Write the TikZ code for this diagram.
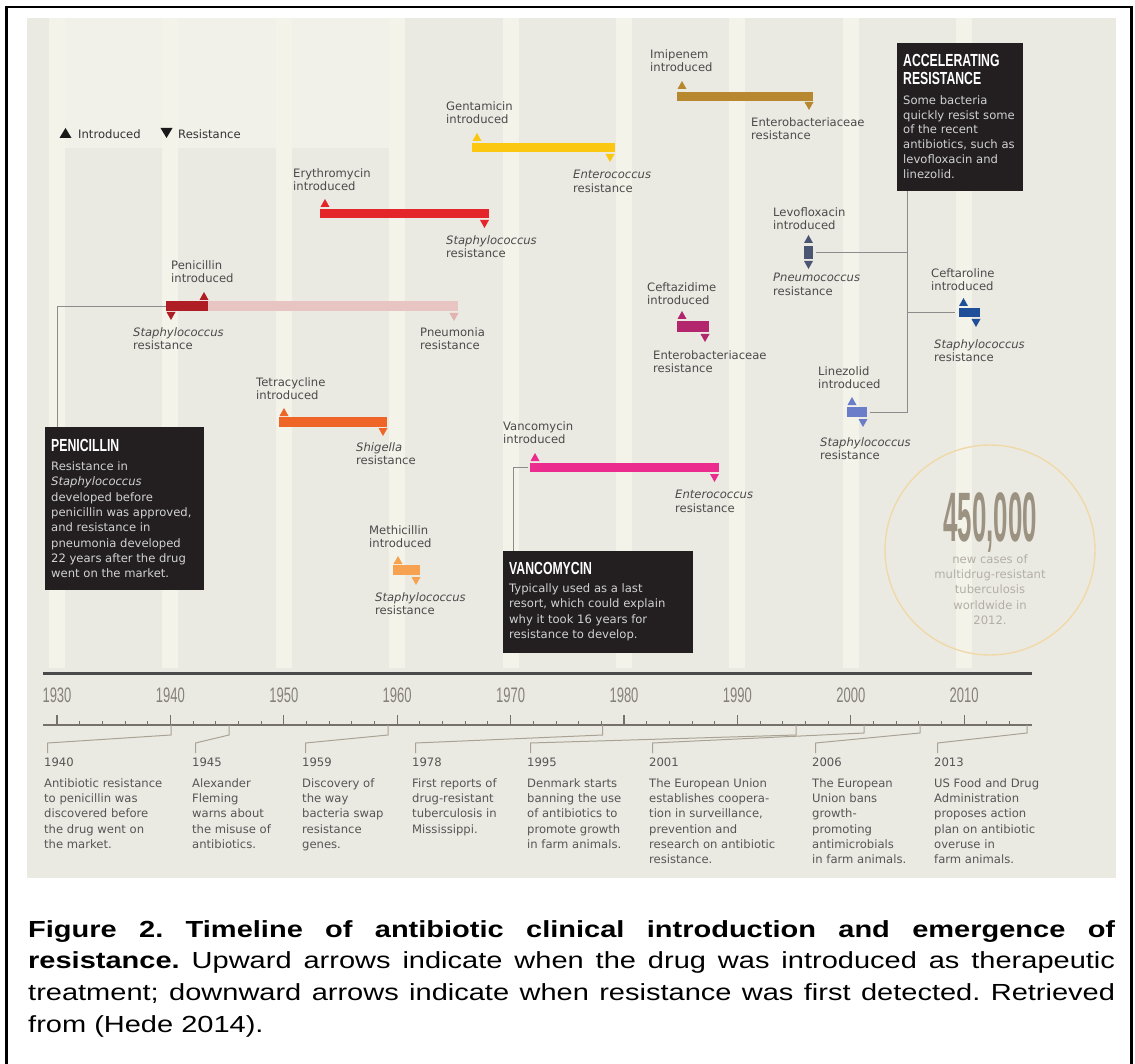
\documentclass[tikz,border=0pt]{standalone}
\usepackage{fontspec}
\usepackage{graphicx}
\newfontfamily\dv{DejaVu Sans}
\newfontfamily\ls{Liberation Sans}
\usetikzlibrary{calc}
\definecolor{panel}{HTML}{EBEAE2}
\definecolor{stripe}{HTML}{F3F3EA}
\definecolor{toplight}{HTML}{F1F1E9}
\definecolor{labc}{HTML}{4A4A4A}
\definecolor{evc}{HTML}{555555}
\definecolor{boxc}{HTML}{231F20}
\definecolor{boxtxt}{HTML}{D2D2D2}
\definecolor{conc}{HTML}{8C8C8C}
\definecolor{evlc}{HTML}{A9A295}
\definecolor{axc}{HTML}{4A4A4A}
\definecolor{axthin}{HTML}{76726B}
\definecolor{yrc}{HTML}{858079}
\definecolor{circc}{HTML}{F0D9A8}
\definecolor{bignum}{HTML}{9C9282}
\definecolor{circtxt}{HTML}{B3AEA5}
\definecolor{penD}{HTML}{B01E25}
\definecolor{penL}{HTML}{E8C4C2}
\definecolor{penLt}{HTML}{E2B3B1}
\definecolor{eryc}{HTML}{E4262B}
\definecolor{genc}{HTML}{FCC710}
\definecolor{imic}{HTML}{B7882F}
\definecolor{tetc}{HTML}{EF6527}
\definecolor{metc}{HTML}{F7A250}
\definecolor{vanc}{HTML}{EC2B8E}
\definecolor{cefzc}{HTML}{B3266D}
\definecolor{levoc}{HTML}{4A5573}
\definecolor{ceftc}{HTML}{1F4F98}
\definecolor{linec}{HTML}{6B7CC8}
\newcommand\triUp[3]{\fill[#1] ({#2-4.5},#3) -- ++(9,0) -- ++(-4.5,-8) -- cycle;}
\newcommand\triDn[3]{\fill[#1] ({#2-4.5},#3) -- ++(9,0) -- ++(-4.5,8) -- cycle;}
\newcommand\capline[1]{\scalebox{1.245}[1]{\makebox[873pt][s]{#1}}}
\begin{document}
\begin{tikzpicture}[x=1pt,y=-1pt,
  lab/.style={anchor=north west, inner sep=0, align=left, text=labc, font=\dv\fontsize{11.6}{13.6}\selectfont},
  evt/.style={anchor=north west, inner sep=0, align=left, text=evc, font=\dv\fontsize{11.6}{15.3}\selectfont},
  barn/.style={anchor=north west, inner sep=0, draw=none},
  dbox/.style={anchor=north west, inner sep=0, fill=boxc, draw=none},
  btitle/.style={anchor=north west, inner sep=0, align=left, text=white, font=\ls\bfseries\fontsize{17.5}{18}\selectfont},
  bbody/.style={anchor=north west, inner sep=0, align=left, text=boxtxt, font=\dv\fontsize{11.6}{15.3}\selectfont},
  conn/.style={draw=conc, line width=1},
  evline/.style={draw=evlc, line width=1},
  yrlab/.style={anchor=north, inner sep=0, text=yrc, font=\ls\fontsize{21}{21}\selectfont}
]
\useasboundingbox (0,0) rectangle (1135,1064);
\fill[white] (0,0) rectangle (1135,1064);
% frame
\draw[line width=2.2] (6.5,1075) -- (6.5,7) -- (1131.5,7) -- (1131.5,1075);
% panel
\fill[panel] (27,18) rectangle (1116,878);
\fill[toplight] (49,18) rectangle (405,148);
\foreach \k in {0,...,8} \fill[stripe] ({49+\k*113.4},18) rectangle ++(16,650);

% legend
\fill[black!90] (59.5,138) -- (71.5,138) -- (65.5,128) -- cycle;
\node[lab, text=black!80] (legI) at (78,129) {Introduced};
\fill[black!90] (160.5,128) -- (172.5,128) -- (166.5,138) -- cycle;
\node[lab, text=black!80] (legR) at (178,129) {Resistance};

% Penicillin
\node[barn, fill=penL, minimum width=250, minimum height=10] (penlight) at (208,301) {};
\node[barn, fill=penD, minimum width=42, minimum height=10] (penbar) at (166,301) {};
\triUp{penD}{204}{300}
\triDn{penD}{171}{312}
\triDn{penLt}{454}{313}
\node[lab] (penI) at (171,260) {Penicillin\\introduced};
\node[lab] (penS) at (133,327) {\textit{Staphylococcus}\\resistance};
\node[lab] (penP) at (420,327) {Pneumonia\\resistance};

% Erythromycin
\node[barn, fill=eryc, minimum width=169, minimum height=9] (erybar) at (320,209) {};
\triUp{eryc}{325}{207}
\triDn{eryc}{484.5}{220}
\node[lab] (eryI) at (293,168) {Erythromycin\\introduced};
\node[lab] (eryS) at (446,235) {\textit{Staphylococcus}\\resistance};

% Gentamicin
\node[barn, fill=genc, minimum width=143, minimum height=9] (genbar) at (472,143) {};
\triUp{genc}{477}{141}
\triDn{genc}{610}{154}
\node[lab] (genI) at (446,101) {Gentamicin\\introduced};
\node[lab] (genE) at (573,170) {\textit{Enterococcus}\\resistance};

% Imipenem
\node[barn, fill=imic, minimum width=136, minimum height=8.5] (imibar) at (677,92) {};
\triUp{imic}{682}{89}
\triDn{imic}{809}{102}
\node[lab] (imiI) at (650,49) {Imipenem\\introduced};
\node[lab] (imiE) at (751,117) {Enterobacteriaceae\\resistance};

% Tetracycline
\node[barn, fill=tetc, minimum width=108, minimum height=10] (tetbar) at (279,417) {};
\triUp{tetc}{284}{416}
\triDn{tetc}{383}{428}
\node[lab] (tetI) at (256,377) {Tetracycline\\introduced};
\node[lab] (tetS) at (356,442) {\textit{Shigella}\\resistance};

% Methicillin
\node[barn, fill=metc, minimum width=27, minimum height=10] (metbar) at (393,565) {};
\triUp{metc}{398}{564}
\triDn{metc}{416}{577}
\node[lab] (metI) at (369,525) {Methicillin\\introduced};
\node[lab] (metS) at (375,592) {\textit{Staphylococcus}\\resistance};

% Vancomycin
\node[barn, fill=vanc, minimum width=189, minimum height=9] (vanbar) at (530,463) {};
\triUp{vanc}{535}{461}
\triDn{vanc}{714.5}{474}
\node[lab] (vanI) at (503,421) {Vancomycin\\introduced};
\node[lab] (vanE) at (675,490) {\textit{Enterococcus}\\resistance};

% Ceftazidime
\node[barn, fill=cefzc, minimum width=32, minimum height=11] (czbar) at (677,321) {};
\triUp{cefzc}{682}{319}
\triDn{cefzc}{705}{334}
\node[lab] (czI) at (647,282) {Ceftazidime\\introduced};
\node[lab] (czE) at (653,350) {Enterobacteriaceae\\resistance};

% Levofloxacin
\node[barn, fill=levoc, minimum width=9, minimum height=13] (lvbar) at (804,245.5) {};
\triUp{levoc}{808.5}{243}
\triDn{levoc}{808.5}{261}
\node[lab] (lvI) at (773,207) {Levofloxacin\\introduced};
\node[lab] (lvP) at (773,273) {\textit{Pneumococcus}\\resistance};

% Ceftaroline
\node[barn, fill=ceftc, minimum width=21, minimum height=9] (ctbar) at (959,308) {};
\triUp{ceftc}{963.5}{306}
\triDn{ceftc}{976}{319}
\node[lab] (ctI) at (931,268) {Ceftaroline\\introduced};
\node[lab] (ctS) at (934,339) {\textit{Staphylococcus}\\resistance};

% Linezolid
\node[barn, fill=linec, minimum width=20, minimum height=10] (lzbar) at (847,407) {};
\triUp{linec}{852}{405}
\triDn{linec}{863}{419}
\node[lab] (lzI) at (818,366) {Linezolid\\introduced};
\node[lab] (lzS) at (820,437) {\textit{Staphylococcus}\\resistance};

% Boxes
\node[dbox, minimum width=159, minimum height=163] (penbox) at (45,427) {};
\node[btitle] (pent) at (51,439) {\scalebox{0.7}[1]{PENICILLIN}};
\node[bbody] (penb) at (51,461.5) {Resistance in\\\textit{Staphylococcus}\\developed before\\penicillin was approved,\\and resistance in\\pneumonia developed\\22 years after the drug\\went on the market.};

\node[dbox, minimum width=190, minimum height=102] (vanbox) at (503,551) {};
\node[btitle] (vant) at (509,562) {\scalebox{0.7}[1]{VANCOMYCIN}};
\node[bbody] (vanb) at (509,583.5) {Typically used as a last\\resort, which could explain\\why it took 16 years for\\resistance to develop.};

\node[dbox, minimum width=126, minimum height=148] (accbox) at (897,43) {};
\node[btitle] (acct) at (903,54) {\scalebox{0.7}[1]{ACCELERATING}\\\scalebox{0.7}[1]{RESISTANCE}};
\node[bbody, font=\dv\fontsize{11.6}{14.7}\selectfont] (accb) at (903,95.5) {Some bacteria\\quickly resist some\\of the recent\\antibiotics, such as\\levofloxacin and\\linezolid.};

% connectors
\draw[conn] (penbar.west) -| ([xshift=12pt]penbox.north west);
\draw[conn] ([xshift=-2pt]vanbar.west) -| ([xshift=10pt]vanbox.north west);
\coordinate (accX) at ([xshift=10pt]accbox.south west);
\draw[conn] (accX) |- ([xshift=3pt]lzbar.east);
\draw[conn] ([xshift=3pt]lvbar.east) -- (lvbar.east -| accX);
\draw[conn] ([xshift=-4pt]ctbar.west) -- (ctbar.west -| accX);

% circle
\node[circle, draw=circc, line width=1.4, minimum size=210, inner sep=0] (circ) at (990,550) {};
\node[anchor=north, inner sep=0, text=bignum, font=\ls\bfseries\fontsize{70}{70}\selectfont] (bign) at (990,492) {\scalebox{0.37}[1]{450,000}};
\node[anchor=north, inner sep=0, align=center, text=circtxt, font=\dv\fontsize{11.6}{15.2}\selectfont] (ctx) at (990,554.5) {new cases of\\multidrug-resistant\\tuberculosis\\worldwide in\\2012.};

% axis
\draw[axc, line width=3] (43,673) -- (1032,673);
\draw[axthin, line width=1.2] (43,725) -- (1032,725);
\foreach \yr in {1930,1940,...,2010} {
  \draw[axthin, line width=1.2] ({57+(\yr-1930)*11.34},725) -- ++(0,-10);
  \node[yrlab] (yr\yr) at ({57+(\yr-1930)*11.34},688) {\scalebox{0.62}[1]{\yr}};
}
\foreach \yr in {1932,1934,...,2014} \draw[axthin, line width=0.9] ({57+(\yr-1930)*11.34},725) -- ++(0,-4);

% events
\node[evt] (e1940) at (44,758) {1940\\[5pt]Antibiotic resistance\\to penicillin was\\discovered before\\the drug went on\\the market.};
\node[evt] (e1945) at (192,758) {1945\\[5pt]Alexander\\Fleming\\warns about\\the misuse of\\antibiotics.};
\node[evt] (e1959) at (302,758) {1959\\[5pt]Discovery of\\the way\\bacteria swap\\resistance\\genes.};
\node[evt] (e1978) at (412,758) {1978\\[5pt]First reports of\\drug-resistant\\tuberculosis in\\Mississippi.};
\node[evt] (e1995) at (527,758) {1995\\[5pt]Denmark starts\\banning the use\\of antibiotics to\\promote growth\\in farm animals.};
\node[evt] (e2001) at (649,758) {2001\\[5pt]The European Union\\establishes coopera-\\tion in surveillance,\\prevention and\\research on antibiotic\\resistance.};
\node[evt] (e2006) at (812,758) {2006\\[5pt]The European\\Union bans\\growth-\\promoting\\antimicrobials\\in farm animals.};
\node[evt] (e2013) at (934,758) {2013\\[5pt]US Food and Drug\\Administration\\proposes action\\plan on antibiotic\\overuse in\\farm animals.};

\foreach \ev/\ax/\dy in {1940/171/10, 1945/229/10, 1959/388/10, 1978/602.7/10, 1995/796/10, 2001/864/8, 2006/920/8, 2013/1027/8} {
  \coordinate (a\ev) at (\ax,725);
  \draw[evline] (a\ev) -- ++(0,\dy) -- ([shift={(3.5,-15)}]e\ev.north west) -- ([shift={(3.5,-5)}]e\ev.north west);
}

% caption
\node[anchor=north west, inner sep=0, align=left, font=\ls\fontsize{23.3}{31.8}\selectfont\frenchspacing] (cap) at (28,920)
{\capline{\bfseries Figure 2. Timeline of antibiotic clinical introduction and emergence of}\\
 \capline{{\bfseries resistance.} Upward arrows indicate when the drug was introduced as therapeutic}\\
 \capline{treatment; downward arrows indicate when resistance was first detected. Retrieved}\\
 \scalebox{1.245}[1]{from (Hede 2014).}};
\end{tikzpicture}
\end{document}
